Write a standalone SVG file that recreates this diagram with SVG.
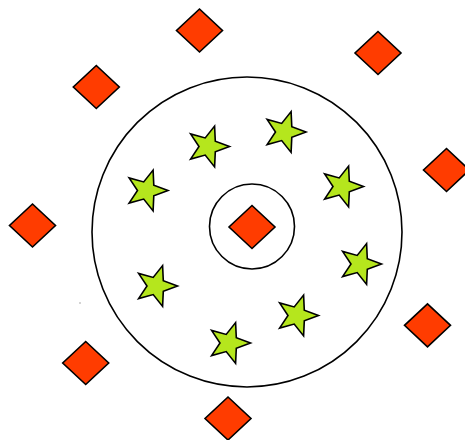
<svg xmlns="http://www.w3.org/2000/svg" xmlns:xlink="http://www.w3.org/1999/xlink" width="465" height="440" viewBox="0 0 465 440">
  <defs>
    <style>
      .ring { fill: none; stroke: #000; stroke-width: 1.6; }
      .diamond { fill: #ff3c00; stroke: #000; stroke-width: 1.6; stroke-linejoin: miter; }
      .star { fill: #b5e61d; stroke: #000; stroke-width: 1.6; stroke-linejoin: miter; }
    </style>
    <path id="dia" d="M0,-21.5 L23,0 L0,21.5 L-23,0 Z"/>
    <path id="st" d="M21.5,0 L7.3,5.3 L6.6,20.4 L-2.8,8.6 L-17.4,12.6 L-9,0 L-17.4,-12.6 L-2.8,-8.6 L6.6,-20.4 L7.3,-5.3 Z"/>
  </defs>
  <rect width="465" height="440" fill="#fff"/>
  <g id="rings">
    <circle class="ring" cx="247" cy="232" r="155"/>
    <circle class="ring" cx="252" cy="226.5" r="42.5"/>
  </g>
  <g id="diamonds">
    <use class="diamond" href="#dia" xlink:href="#dia" x="199.5" y="30.5"/>
    <use class="diamond" href="#dia" xlink:href="#dia" x="378" y="53"/>
    <use class="diamond" href="#dia" xlink:href="#dia" x="96.3" y="87"/>
    <use class="diamond" href="#dia" xlink:href="#dia" x="446.5" y="170"/>
    <use class="diamond" href="#dia" xlink:href="#dia" x="32.5" y="225.5"/>
    <use class="diamond" href="#dia" xlink:href="#dia" x="252" y="227"/>
    <use class="diamond" href="#dia" xlink:href="#dia" x="427.5" y="325.3"/>
    <use class="diamond" href="#dia" xlink:href="#dia" x="85.7" y="363"/>
    <use class="diamond" href="#dia" xlink:href="#dia" x="228" y="418.5"/>
  </g>
  <g id="stars">
    <use class="star" href="#st" xlink:href="#st" x="146.5" y="190.5"/>
    <use class="star" href="#st" xlink:href="#st" x="208" y="146.5"/>
    <use class="star" href="#st" xlink:href="#st" x="284.5" y="132"/>
    <use class="star" href="#st" xlink:href="#st" x="342" y="186.5"/>
    <use class="star" href="#st" xlink:href="#st" x="360" y="264"/>
    <use class="star" href="#st" xlink:href="#st" x="156" y="286"/>
    <use class="star" href="#st" xlink:href="#st" x="297" y="315.5"/>
    <use class="star" href="#st" xlink:href="#st" x="229" y="343"/>
  </g>
  <circle cx="80" cy="303" r="0.7" fill="#888"/>
</svg>
